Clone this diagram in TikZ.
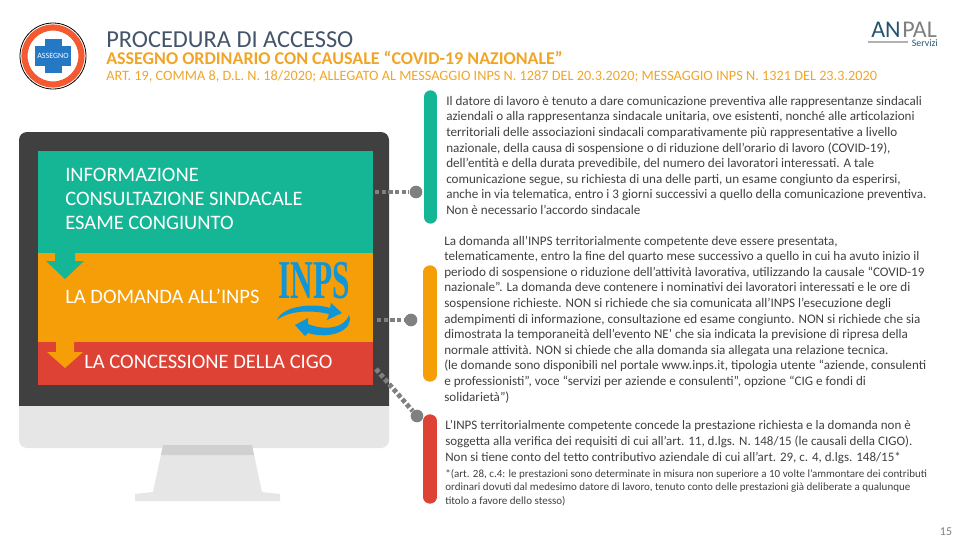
\documentclass[tikz,border=0pt]{standalone}
\usepackage{fontspec}
\setmainfont{Carlito}
\newfontfamily\logoserif{Liberation Serif}
\usetikzlibrary{arrows.meta, positioning, calc}
\definecolor{mteal}{RGB}{20,182,150}
\definecolor{morange}{RGB}{245,158,8}
\definecolor{mred}{RGB}{222,66,52}
\definecolor{mdark}{RGB}{64,64,64}
\definecolor{mlight}{RGB}{230,230,230}
\definecolor{mband}{RGB}{208,208,208}
\definecolor{mgrey}{RGB}{128,128,128}
\definecolor{mtitle}{RGB}{68,84,106}
\definecolor{mamber}{RGB}{240,165,40}
\definecolor{mbody}{RGB}{64,64,64}
\definecolor{mblue}{RGB}{16,150,214}
\definecolor{mcross}{RGB}{36,120,196}
\definecolor{mring}{RGB}{244,90,50}
\definecolor{mnavy}{RGB}{36,84,112}
\begin{document}
\begin{tikzpicture}[x=0.75pt,y=-0.75pt,
  bar/.style={line width=10pt,line cap=round},
  tail/.style={draw=mgrey,line width=3.6pt,dash pattern=on 3.2pt off 1.8pt},
  dot/.style={circle,fill=mgrey,inner sep=0pt,minimum size=9.5pt},
  screenlabel/.style={anchor=west,align=left,text=white,font=\fontsize{15.4}{18.3}\selectfont},
  body/.style={anchor=north west,align=left,text=mbody,inner sep=0pt,font=\fontsize{9.83}{11.7}\selectfont},
  head/.style={anchor=base west,inner sep=0pt,text=mamber},
]
\useasboundingbox (0,0) rectangle (960,540);
% header
\node[head,text=mtitle,font=\fontsize{18.3}{20}\selectfont] (title) at (106,47) {PROCEDURA DI ACCESSO};
\node[head,font=\fontsize{13.5}{14}\selectfont\bfseries] (subtitle) at (106,64.5) {ASSEGNO ORDINARIO CON CAUSALE ``COVID-19 NAZIONALE''};
\node[head,font=\fontsize{10.7}{12}\selectfont] (law) at (106,80.5) {ART. 19, COMMA 8, D.L. N. 18/2020; ALLEGATO AL MESSAGGIO INPS N. 1287 DEL 20.3.2020; MESSAGGIO INPS N. 1321 DEL 23.3.2020};
% badge
\draw[black,line width=0.6pt,fill=white] (53,56) circle[radius=33];
\draw[mring,line width=4.6pt] (53,56) circle[radius=28.5];
\fill[mcross] (45,39) rectangle (62,73);
\fill[mcross] (35,46) rectangle (71,66);
\node[text=white,font=\fontsize{6}{7}\selectfont,inner sep=0pt] (badge) at (53,56) {ASSEGNO};
% anpal logo
\node[anchor=base west,inner sep=0pt,text=mnavy,font=\fontsize{18}{18}\selectfont] (anlogo) at (871,37) {AN};
\node[anchor=base west,inner sep=0pt,text=mgrey,font=\fontsize{18}{18}\selectfont] (pallogo) at (902,37) {PAL};
\node[anchor=base east,inner sep=0pt,text=mnavy,font=\fontsize{7.4}{8}\selectfont] (servizi) at (938,46) {Servizi};
\coordinate (rulea) at (868,42);
\coordinate (ruleb) at (908,42);
\draw[mgrey!60,line width=0.8pt] (rulea) -- (ruleb);
% monitor
\fill[mdark] (19,406) [rounded corners=6pt] -- (19,132) -- (389,132) [sharp corners] -- (389,406) -- cycle;
\fill[mlight] (19,406) -- (389,406) [rounded corners=6pt] -- (389,448) -- (19,448) [sharp corners] -- cycle;
\fill[mlight] (153,492) -- (163,445) -- (252,445) -- (262,492) -- (280,494) -- (280,501) -- (135,501) -- (135,494) -- cycle;
\fill[mband] (163,445) -- (252,445) -- (254,455) -- (161,455) -- cycle;
% screen
\fill[mteal] (38,151) rectangle (373,253);
\fill[morange] (38,253) rectangle (373,342);
\fill[mred] (38,342) rectangle (373,385);
\fill[mteal] (55,253) -- (75,253) -- (75,261) -- (84,261) -- (65,279) -- (46,261) -- (55,261) -- cycle;
\fill[morange] (56,342) -- (74,342) -- (74,352) -- (83,352) -- (65,368) -- (47,352) -- (56,352) -- cycle;
\node[screenlabel,inner sep=0pt] (inf) at (65,199) {INFORMAZIONE\\CONSULTAZIONE SINDACALE\\ESAME CONGIUNTO};
\node[screenlabel,inner sep=0pt] (dom) at (65,296) {LA DOMANDA ALL’INPS};
\node[screenlabel,inner sep=0pt] (con) at (84,362) {LA CONCESSIONE DELLA CIGO};
% inps logo
\node[inner sep=0pt,text=mblue,font=\logoserif\bfseries\fontsize{38}{38}\selectfont,xscale=0.62,yscale=1.08] (inps) at (314,281) {INPS};
\fill[mblue] (277,320) .. controls (283,305) and (315,303) .. (330,308) -- (331,303) -- (342,313) -- (327,320) -- (329,314) .. controls (312,310) and (290,310) .. (277,320) -- cycle;
\fill[mblue] (349,315) .. controls (355,330) and (330,340) .. (308,333) -- (305,336) -- (295,325) -- (308,318) -- (308,324) .. controls (325,331) and (345,328) .. (349,315) -- cycle;
% connectors
\node[dot] (dota) at (416,192) {};
\node[dot] (dotb) at (411,320) {};
\node[dot] (dotc) at (417,416) {};
\coordinate (taila) at (375,192);
\coordinate (tailb) at (377,320);
\coordinate (tailc) at (376,369);
\draw[tail] (taila) -- (dota);
\draw[tail] (tailb) -- (dotb);
\draw[tail] (tailc) -- (dotc);
% bars
\draw[bar,mteal] (430.5,97) -- (430.5,217);
\draw[bar,morange] (430,272) -- (430,375);
\draw[bar,mred] (430,421) -- (430,497);
% texts
\node[body] (txta) at (446,96) {Il datore di lavoro è tenuto a dare comunicazione preventiva alle rappresentanze sindacali\\
aziendali o alla rappresentanza sindacale unitaria, ove esistenti, nonché alle articolazioni\\
territoriali delle associazioni sindacali comparativamente più rappresentative a livello\\
nazionale, della causa di sospensione o di riduzione dell'orario di lavoro (COVID-19),\\
dell'entità e della durata prevedibile, del numero dei lavoratori interessati.  A tale\\
comunicazione segue, su richiesta di una delle parti, un esame congiunto da esperirsi,\\
anche in via telematica, entro i 3 giorni successivi a quello della comunicazione preventiva.\\
Non è necessario l’accordo sindacale};
\node[body] (txtb) at (444,235.5) {La domanda all’INPS territorialmente  competente deve essere presentata,\\
telematicamente,  entro la fine del quarto mese successivo a quello in cui ha avuto inizio il\\
periodo di sospensione o riduzione dell’attività lavorativa, utilizzando la causale ``COVID-19\\
nazionale''. La domanda deve contenere i nominativi dei lavoratori interessati e le ore di\\
sospensione richieste.  NON si richiede che sia comunicata all’INPS l’esecuzione degli\\
adempimenti di informazione, consultazione ed esame congiunto. NON si richiede che sia\\
dimostrata la temporaneità dell’evento NE’ che sia indicata la previsione di ripresa della\\
normale attività. NON si chiede che alla domanda sia allegata una relazione tecnica.\\
(le domande sono disponibili nel portale www.inps.it, tipologia utente ``aziende, consulenti\\
e professionisti'', voce ``servizi per aziende e consulenti'', opzione ``CIG e fondi di\\
solidarietà'')};
\node[body,font=\fontsize{9.75}{12}\selectfont] (txtc) at (445,420) {L’INPS territorialmente  competente concede la prestazione richiesta e la domanda non è\\
soggetta alla verifica dei requisiti di cui all’art. 11, d.lgs. N. 148/15 (le causali della CIGO).\\
Non si tiene conto del tetto contributivo aziendale di cui all’art. 29, c. 4, d.lgs. 148/15*};
\node[body,font=\fontsize{8.26}{10.1}\selectfont] (txtd) at (445,469) {*(art. 28, c.4: le prestazioni sono determinate in misura non superiore a 10 volte l'ammontare dei contributi\\
ordinari dovuti dal medesimo datore di lavoro, tenuto conto delle prestazioni già deliberate a qualunque\\
titolo a favore dello stesso)};
\node[inner sep=0pt,text=mgrey,font=\fontsize{9}{10}\selectfont] (page) at (946,532) {15};
\end{tikzpicture}
\end{document}
